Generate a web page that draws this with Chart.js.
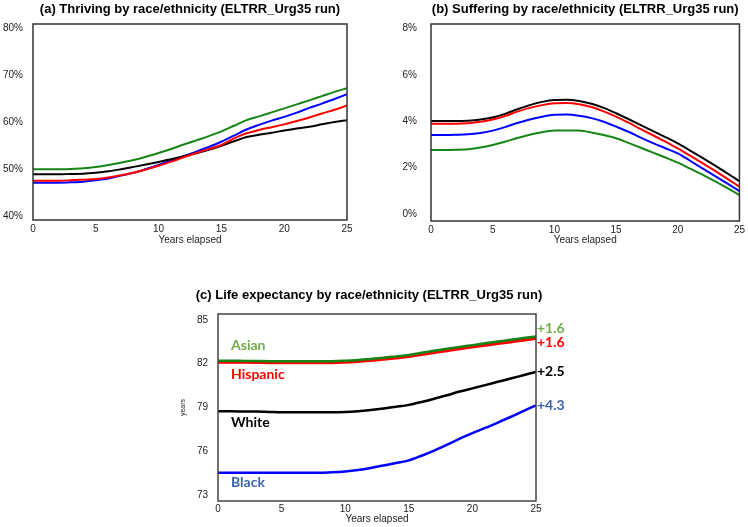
<!DOCTYPE html>
<html>
<head>
<meta charset="utf-8">
<title>ELTRR_Urg35 run by race/ethnicity</title>
<script src="https://cdn.jsdelivr.net/npm/chart.js@4.4.0/dist/chart.umd.min.js"></script>
<style>
  html, body { margin: 0; padding: 0; background: #fff; overflow: hidden; }
  canvas { position: absolute; }
</style>
</head>
<body>
<canvas id="thriving" width="374" height="250" style="left:0;top:0"></canvas>
<canvas id="suffering" width="374" height="250" style="left:374px;top:0"></canvas>
<canvas id="lifeExp" width="440" height="257" style="left:160px;top:270px"></canvas>
<script>
// years elapsed (x axis)
const years = [0, 1, 2, 3, 4, 5, 6, 7, 8, 9, 10, 11, 12, 13, 14, 15, 16, 17, 18, 19, 20, 21, 22, 23, 24, 25];
const xTicks = [0, 5, 10, 15, 20, 25];
const groups = ['Asian', 'Hispanic', 'White', 'Black'];

// (a) thriving, %
const thrivingTicks = [40, 50, 60, 70, 80];
const thrivingAsian = [49.93, 49.93, 49.93, 50.0, 50.14, 50.43, 50.85, 51.35, 51.9, 52.6, 53.4, 54.25, 55.2, 56.1, 57.0, 58.0, 59.2, 60.4, 61.2, 62.05, 62.9, 63.75, 64.6, 65.5, 66.4, 67.2];
const thrivingHispanic = [47.52, 47.52, 47.52, 47.6, 47.73, 47.87, 48.2, 48.65, 49.2, 49.9, 50.7, 51.56, 52.5, 53.4, 54.25, 55.1, 56.5, 57.6, 58.3, 58.9, 59.5, 60.2, 60.95, 61.8, 62.6, 63.5];
const thrivingWhite = [48.87, 48.87, 48.87, 48.94, 49.0, 49.2, 49.5, 49.95, 50.45, 50.95, 51.5, 52.1, 52.7, 53.35, 54.1, 54.96, 55.9, 56.8, 57.3, 57.7, 58.2, 58.6, 59.0, 59.5, 60.0, 60.4];
const thrivingBlack = [47.09, 47.09, 47.09, 47.16, 47.3, 47.6, 48.0, 48.6, 49.2, 50.0, 50.85, 51.8, 52.7, 53.7, 54.7, 55.8, 57.1, 58.4, 59.4, 60.3, 61.1, 62.0, 63.0, 63.9, 64.9, 65.9];

// (b) suffering, %
const sufferingTicks = [0, 2, 4, 6, 8];
const sufferingAsian = [2.76, 2.76, 2.77, 2.8, 2.87, 2.98, 3.12, 3.28, 3.42, 3.53, 3.6, 3.61, 3.6, 3.52, 3.41, 3.27, 3.07, 2.86, 2.65, 2.44, 2.22, 1.96, 1.7, 1.42, 1.13, 0.82];
const sufferingHispanic = [3.9, 3.9, 3.9, 3.92, 3.98, 4.08, 4.23, 4.42, 4.58, 4.7, 4.78, 4.79, 4.74, 4.62, 4.43, 4.2, 3.94, 3.66, 3.4, 3.12, 2.83, 2.52, 2.2, 1.87, 1.53, 1.18];
const sufferingWhite = [4.01, 4.01, 4.01, 4.03, 4.08, 4.17, 4.32, 4.52, 4.7, 4.84, 4.92, 4.93, 4.88, 4.76, 4.58, 4.35, 4.1, 3.84, 3.58, 3.32, 3.05, 2.74, 2.42, 2.1, 1.76, 1.42];
const sufferingBlack = [3.41, 3.41, 3.42, 3.44, 3.5, 3.6, 3.75, 3.93, 4.08, 4.2, 4.28, 4.29, 4.24, 4.14, 3.98, 3.77, 3.55, 3.3, 3.06, 2.84, 2.62, 2.3, 1.97, 1.65, 1.32, 0.99];

// (c) life expectancy, years
const lifeTicks = [73, 76, 79, 82, 85];
const lifeAsian = [82.2, 82.2, 82.19, 82.18, 82.17, 82.17, 82.17, 82.17, 82.17, 82.17, 82.2, 82.25, 82.32, 82.4, 82.5, 82.6, 82.75, 82.88, 83.02, 83.15, 83.27, 83.4, 83.52, 83.63, 83.75, 83.86];
const lifeHispanic = [82.1, 82.1, 82.09, 82.08, 82.07, 82.07, 82.07, 82.07, 82.07, 82.07, 82.1, 82.15, 82.22, 82.3, 82.39, 82.49, 82.63, 82.76, 82.89, 83.02, 83.14, 83.26, 83.38, 83.49, 83.6, 83.72];
const lifeWhite = [78.74, 78.74, 78.73, 78.72, 78.7, 78.68, 78.68, 78.68, 78.68, 78.68, 78.7, 78.75, 78.83, 78.93, 79.05, 79.18, 79.38, 79.6, 79.84, 80.09, 80.31, 80.53, 80.76, 80.98, 81.21, 81.44];
const lifeBlack = [74.53, 74.53, 74.53, 74.53, 74.53, 74.53, 74.53, 74.53, 74.53, 74.56, 74.62, 74.72, 74.86, 75.03, 75.2, 75.38, 75.7, 76.05, 76.45, 76.87, 77.25, 77.6, 77.97, 78.35, 78.75, 79.15];
const lifeGains = ['+1.6', '+1.6', '+2.5', '+4.3'];

Chart.defaults.font.family = 'Arial, "Liberation Sans", sans-serif';
Chart.defaults.color = '#222';

const lineColors = ['#168516', '#ff0000', '#000000', '#0000ff'];
const labelColors = ['#70ad47', '#ff0000', '#000000', '#3c62b0'];

const points = values => values.map((v, i) => ({ x: years[i], y: v }));

// box around the plot area
const frame = {
  id: 'frame',
  afterDraw(chart, args, opts) {
    const { ctx, chartArea: a } = chart;
    ctx.save();
    ctx.strokeStyle = opts.color || '#333';
    ctx.lineWidth = opts.width || 1.5;
    ctx.strokeRect(a.left, a.top, a.right - a.left, a.bottom - a.top);
    ctx.restore();
  }
};

// title wider than the plot area (the built-in one squeezes it to fit)
const wideTitle = {
  id: 'wideTitle',
  afterDraw(chart, args, opts) {
    const { ctx, chartArea: a } = chart;
    ctx.save();
    ctx.font = 'bold 13px Arial, "Liberation Sans", sans-serif';
    ctx.fillStyle = '#000';
    ctx.textAlign = 'center';
    ctx.textBaseline = 'middle';
    ctx.fillText(opts.text, (a.left + a.right) / 2 + opts.shift, opts.y);
    ctx.restore();
  }
};

// group names at the start and gains at the end of the life expectancy lines
const lineLabels = {
  id: 'lineLabels',
  afterDatasetsDraw(chart, args, opts) {
    const { ctx, chartArea, scales: { y } } = chart;
    ctx.save();
    ctx.font = 'bold 14px Lato, "Open Sans", sans-serif';
    ctx.textBaseline = 'middle';
    ctx.textAlign = 'left';
    chart.data.datasets.forEach((ds, i) => {
      const first = ds.data[0].y;
      const last = ds.data[ds.data.length - 1].y;
      ctx.fillStyle = labelColors[i];
      ctx.fillText(groups[i], chartArea.left + 13, y.getPixelForValue(first) + opts.nameOffsets[i]);
      ctx.fillText(lifeGains[i], chartArea.right + 1, y.getPixelForValue(last) + opts.gainOffsets[i]);
    });
    ctx.restore();
  }
};

function makeChart(id, o) {
  const datasets = o.series.map((values, i) => ({
    label: groups[i],
    data: points(values),
    borderColor: lineColors[i],
    borderWidth: o.lineWidths ? o.lineWidths[i] : 2,
    pointRadius: 0,
    cubicInterpolationMode: 'monotone',
    fill: false
  }));
  return new Chart(document.getElementById(id), {
    type: 'line',
    data: { datasets },
    plugins: o.plugins || [frame],
    options: {
      responsive: false,
      animation: false,
      events: [],
      layout: { padding: { left: 0, right: o.padRight, top: o.padTop || 0, bottom: 0 } },
      plugins: {
        legend: { display: false },
        tooltip: { enabled: false },
        title: {
          display: !!o.titlePad,
          fullSize: false,
          text: o.title,
          color: '#000',
          font: { size: 13, weight: 'bold' },
          padding: o.titlePad
        },
        frame: o.frame || {},
        wideTitle: { text: o.title, shift: o.titleShift || 0, y: o.titleY || 0 },
        lineLabels: o.lineLabels || {}
      },
      scales: {
        x: {
          type: 'linear',
          min: 0,
          max: 25,
          grid: { display: false, drawTicks: false },
          border: { display: false },
          afterBuildTicks: s => { s.ticks = xTicks.map(v => ({ value: v })); },
          afterFit: s => { s.height = o.xHeight; },
          ticks: { font: { size: 10 }, padding: o.xTickPad, maxRotation: 0 },
          title: { display: true, text: 'Years elapsed', font: { size: 10 }, color: '#222', padding: { top: 0, bottom: o.xTitlePad } }
        },
        y: {
          min: o.yMin,
          max: o.yMax,
          grid: { display: false, drawTicks: false },
          border: { display: false },
          afterBuildTicks: s => { s.ticks = o.yTicks.map(v => ({ value: v })); },
          afterFit: s => { s.width = o.yWidth; },
          ticks: { font: { size: 10 }, padding: o.yTickPad, callback: o.yFormat },
          title: o.yTitle || { display: false }
        }
      }
    }
  });
}

makeChart('thriving', {
  title: '(a) Thriving by race/ethnicity (ELTRR_Urg35 run)',
  series: [thrivingAsian, thrivingHispanic, thrivingWhite, thrivingBlack],
  yMin: 39.15, yMax: 80.85, yTicks: thrivingTicks,
  yFormat: v => v + '%',
  padRight: 27, yWidth: 33, xHeight: 30,
  titlePad: { top: 1.5, bottom: 6.9 },
  xTickPad: 3, xTitlePad: 4, yTickPad: 10
});

makeChart('suffering', {
  title: '(b) Suffering by race/ethnicity (ELTRR_Urg35 run)',
  series: [sufferingAsian, sufferingHispanic, sufferingWhite, sufferingBlack],
  yMin: -0.3, yMax: 8.2, yTicks: sufferingTicks,
  yFormat: v => v + '%',
  padRight: 7, yWidth: 57, xHeight: 29,
  titlePad: { top: 1.5, bottom: 6.9 },
  xTickPad: 3, xTitlePad: 4, yTickPad: 14
});

makeChart('lifeExp', {
  title: '(c) Life expectancy by race/ethnicity (ELTRR_Urg35 run)',
  titleShift: -8, titleY: 25, padTop: 44,
  series: [lifeAsian, lifeHispanic, lifeWhite, lifeBlack],
  lineWidths: [2.5, 3, 2.5, 2.5],
  yMin: 72.6, yMax: 85.4, yTicks: lifeTicks,
  yFormat: v => v,
  yTitle: { display: true, text: 'years', font: { size: 7 }, color: '#222', padding: { top: 19, bottom: 0 } },
  padRight: 64, yWidth: 58, xHeight: 26,
  xTickPad: 2, xTitlePad: 2, yTickPad: 10,
  plugins: [frame, wideTitle, lineLabels],
  frame: { color: '#444', width: 1.5 },
  lineLabels: { nameOffsets: [-15, 12, 11, 10], gainOffsets: [-8, 4, 0, 0] }
});
</script>
</body>
</html>
